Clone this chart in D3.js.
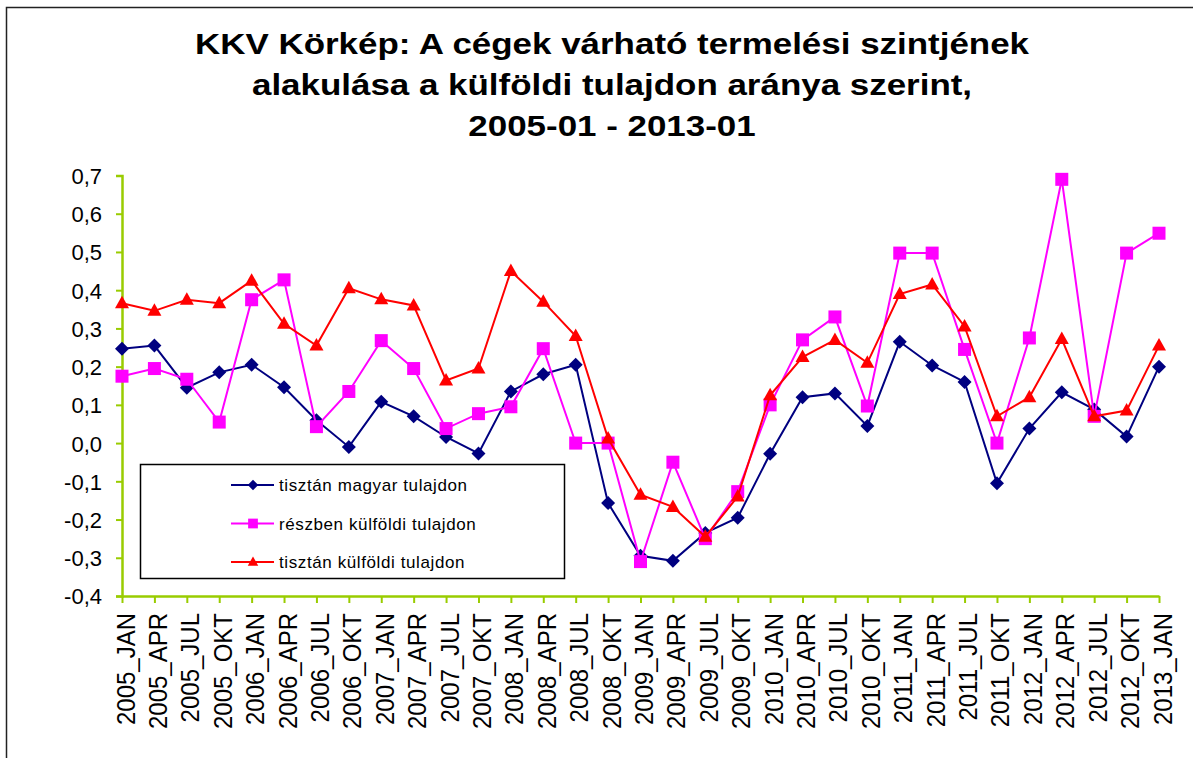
<!DOCTYPE html>
<html>
<head>
<meta charset="utf-8">
<script src="https://cdn.jsdelivr.net/npm/d3@7"></script>
<style>
  body { margin: 0; background: #fff; }
  svg { display: block; font-family: "Liberation Sans", Arial, sans-serif; }
</style>
</head>
<body>
<svg id="chart" width="1193" height="758"></svg>
<script>
// categories (quarters)
const categories = [
  "2005_JAN","2005_APR","2005_JUL","2005_OKT",
  "2006_JAN","2006_APR","2006_JUL","2006_OKT",
  "2007_JAN","2007_APR","2007_JUL","2007_OKT",
  "2008_JAN","2008_APR","2008_JUL","2008_OKT",
  "2009_JAN","2009_APR","2009_JUL","2009_OKT",
  "2010_JAN","2010_APR","2010_JUL","2010_OKT",
  "2011_JAN","2011_APR","2011_JUL","2011_OKT",
  "2012_JAN","2012_APR","2012_JUL","2012_OKT",
  "2013_JAN"
];

const magyar = [
  0.247, 0.255, 0.145, 0.185, 0.205, 0.146, 0.06, -0.01,
  0.108, 0.07, 0.016, -0.027, 0.135, 0.18, 0.205, -0.157,
  -0.295, -0.308, -0.235, -0.195, -0.028, 0.12, 0.13, 0.045,
  0.265, 0.203, 0.16, -0.105, 0.038, 0.133, 0.088, 0.017,
  0.2
];

const reszben = [
  0.175, 0.195, 0.167, 0.055, 0.375, 0.427, 0.043, 0.135,
  0.268, 0.195, 0.038, 0.077, 0.095, 0.247, 0.0, 0.0,
  -0.31, -0.05, -0.25, -0.127, 0.1, 0.27, 0.33, 0.097,
  0.497, 0.497, 0.245, 0.0, 0.275, 0.69, 0.07, 0.497,
  0.549
];

const kulfoldi = [
  0.366, 0.346, 0.375, 0.366, 0.425, 0.312, 0.255, 0.405,
  0.376, 0.36, 0.164, 0.195, 0.45, 0.37, 0.28, 0.012,
  -0.135, -0.167, -0.245, -0.14, 0.125, 0.225, 0.27, 0.21,
  0.39, 0.415, 0.305, 0.07, 0.12, 0.272, 0.07, 0.085,
  0.255
];

const yTicks = [-0.4, -0.3, -0.2, -0.1, 0.0, 0.1, 0.2, 0.3, 0.4, 0.5, 0.6, 0.7];

const titleLines = [
  "KKV Körkép: A cégek várható termelési szintjének",
  "alakulása a külföldi tulajdon aránya szerint,",
  "2005-01 - 2013-01"
];

const series = [
  { name: "tisztán magyar tulajdon", values: magyar, color: "#000080", symbol: "diamond" },
  { name: "részben külföldi tulajdon", values: reszben, color: "#ff00ff", symbol: "square" },
  { name: "tisztán külföldi tulajdon", values: kulfoldi, color: "#ff0000", symbol: "triangle" }
];

const svg = d3.select("#chart");
const axisColor = "#99cc00";

// outer frame (right / bottom edges run off the picture)
svg.append("rect")
  .attr("x", 6.5).attr("y", 7.5)
  .attr("width", 1250).attr("height", 800)
  .attr("fill", "none").attr("stroke", "#222").attr("stroke-width", 1.5);

// title - the original is a bit wider than plain Arial, so stretch it
svg.append("g").selectAll("text")
  .data(titleLines)
  .enter().append("text")
  .attr("transform", (d, i) => `translate(612,${54 + i * 41}) scale(1.165,1)`)
  .attr("text-anchor", "middle")
  .attr("font-size", 30)
  .attr("font-weight", "bold")
  .text(d => d);

const x = d3.scalePoint().domain(categories).range([122, 1159]);
const y = d3.scaleLinear().domain([-0.4, 0.7]).range([596, 175.5]);

// y axis
const yAxis = svg.append("g")
  .attr("transform", "translate(122,0)")
  .call(d3.axisLeft(y).tickValues(yTicks).tickSize(6).tickPadding(14)
    .tickFormat(d => d3.format(".1f")(d).replace(".", ",").replace("−", "-")));
yAxis.select(".domain").attr("stroke", axisColor).attr("stroke-width", 2.5);
yAxis.selectAll(".tick line").attr("stroke", axisColor).attr("stroke-width", 2);
yAxis.selectAll(".tick text")
  .attr("font-size", 22)
  .attr("font-family", "Liberation Sans, Arial, sans-serif")
  .attr("fill", "#000")
  .attr("dy", "0.36em");

// x axis
const xAxis = svg.append("g")
  .attr("transform", "translate(0,596)")
  .call(d3.axisBottom(x).tickSize(7).tickSizeOuter(0));
xAxis.select(".domain").attr("stroke", axisColor).attr("stroke-width", 2.5);
xAxis.selectAll(".tick line").attr("stroke", axisColor).attr("stroke-width", 2);
xAxis.selectAll(".tick text")
  .attr("font-size", 24)
  .attr("font-family", "Liberation Sans, Arial, sans-serif")
  .attr("fill", "#000")
  .attr("text-anchor", "end")
  .attr("transform", "translate(12,17) scale(1.1,1) rotate(-90)")
  .attr("x", 0).attr("y", 0).attr("dy", 0);

// markers
function marker(sel, s, k) {
  if (s.symbol === "diamond") {
    sel.append("path").attr("d", `M0,${-7 * k}L${7 * k},0L0,${7 * k}L${-7 * k},0Z`).attr("fill", s.color);
  } else if (s.symbol === "square") {
    sel.append("rect").attr("x", -6.5 * k).attr("y", -6.5 * k)
      .attr("width", 13 * k).attr("height", 13 * k).attr("fill", s.color);
  } else {
    sel.append("path").attr("d", `M0,${-7.5 * k}L${7 * k},${5 * k}L${-7 * k},${5 * k}Z`).attr("fill", s.color);
  }
}

const line = d3.line()
  .x((d, i) => x(categories[i]))
  .y(d => y(d));

series.forEach(s => {
  const g = svg.append("g");
  g.append("path")
    .datum(s.values)
    .attr("fill", "none")
    .attr("stroke", s.color)
    .attr("stroke-width", 2)
    .attr("d", line);
  g.selectAll("g.pt")
    .data(s.values)
    .enter().append("g")
    .attr("class", "pt")
    .attr("transform", (d, i) => `translate(${x(categories[i])},${y(d)})`)
    .each(function () { marker(d3.select(this), s, 1); });
});

// legend
const legend = svg.append("g");
legend.append("rect")
  .attr("x", 140.5).attr("y", 464.5)
  .attr("width", 424).attr("height", 114)
  .attr("fill", "#fff").attr("stroke", "#000").attr("stroke-width", 1.5);
series.forEach((s, i) => {
  const ly = 485 + i * 38.5;
  const item = legend.append("g");
  item.append("line")
    .attr("x1", 231).attr("x2", 274).attr("y1", ly).attr("y2", ly)
    .attr("stroke", s.color).attr("stroke-width", 2);
  const m = item.append("g").attr("transform", `translate(253,${ly})`);
  marker(m, s, 0.75);
  item.append("text")
    .attr("x", 279).attr("y", ly + 6)
    .attr("font-size", 17)
    .attr("letter-spacing", 0.6)
    .text(s.name);
});
</script>
</body>
</html>
